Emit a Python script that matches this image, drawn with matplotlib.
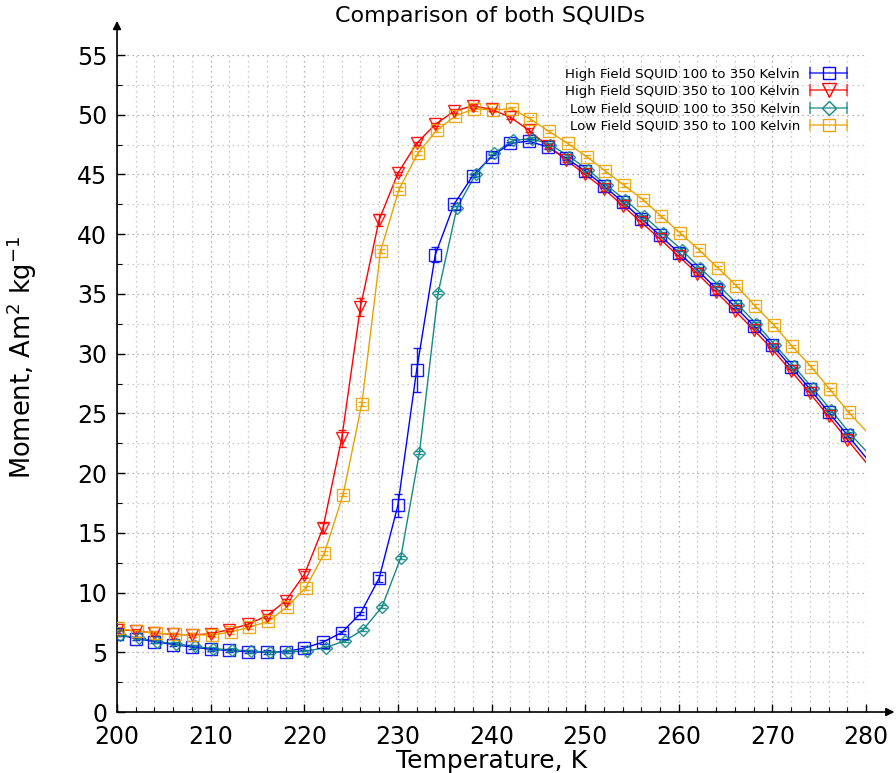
import matplotlib
matplotlib.use("Agg")
import matplotlib.pyplot as plt
import numpy as np
from matplotlib.lines import Line2D
from matplotlib.legend_handler import HandlerLine2D, HandlerTuple

# temperatures (K); last entry only continues the line to the plot edge
temps = np.arange(200, 282, 2)

hf_up = [6.5, 6.15, 5.9, 5.65, 5.45, 5.25, 5.15, 5.05, 5.0, 5.05,
         5.35, 5.85, 6.65, 8.25, 11.2, 17.3, 28.6, 38.3, 42.5, 44.9,
         46.5, 47.6, 47.8, 47.3, 46.35, 45.3, 44.05, 42.7, 41.3, 39.9,
         38.45, 37.0, 35.45, 33.95, 32.35, 30.7, 28.9, 27.05, 25.1, 23.2, 21.3]
hf_down = [6.9, 6.8, 6.6, 6.5, 6.45, 6.55, 6.9, 7.35, 8.05, 9.3,
           11.5, 15.4, 22.9, 33.9, 41.2, 45.1, 47.6, 49.2, 50.3, 50.75,
           50.45, 49.8, 48.7, 47.4, 46.2, 45.0, 43.8, 42.4, 41.0, 39.6,
           38.15, 36.7, 35.15, 33.6, 32.0, 30.35, 28.55, 26.7, 24.75, 22.8, 20.9]
lf_up = [6.45, 6.2, 5.9, 5.7, 5.5, 5.3, 5.2, 5.1, 5.0, 5.05,
         5.1, 5.4, 5.95, 6.9, 8.8, 12.9, 21.7, 35.1, 42.2, 45.0,
         46.8, 47.85, 48.0, 47.5, 46.5, 45.4, 44.1, 42.85, 41.5, 40.1,
         38.7, 37.15, 35.7, 34.1, 32.5, 30.7, 28.95, 27.1, 25.25, 23.3, 21.6]
lf_down = [7.0, 6.75, 6.6, 6.5, 6.45, 6.45, 6.7, 7.1, 7.6, 8.8,
           10.4, 13.3, 18.2, 25.8, 38.6, 43.8, 46.8, 48.7, 49.9, 50.5,
           50.4, 50.5, 49.65, 48.6, 47.6, 46.5, 45.3, 44.1, 42.9, 41.5,
           40.1, 38.7, 37.2, 35.7, 34.0, 32.4, 30.6, 28.9, 27.0, 25.1, 23.4]

# error bars for the 40 measured points
hf_up_err = [0.15] * 14 + [0.3, 0.95, 1.85, 0.6] + [0.15] * 22
hf_down_err = [0.15] * 10 + [0.3, 0.4, 0.7, 0.75, 0.5] + [0.15] * 25
lf_up_err = [0.12] * 40
lf_down_err = [0.15] * 40

# small temperature offsets of the low field runs
lf_up_shift = 0.3
lf_down_shift = 0.15

labels = ["High Field SQUID 100 to 350 Kelvin",
          "High Field SQUID 350 to 100 Kelvin",
          "Low Field SQUID 100 to 350 Kelvin",
          "Low Field SQUID 350 to 100 Kelvin"]

plt.rcParams['font.family'] = ['DejaVu Sans']

fig = plt.figure(figsize=(8.96, 7.73), dpi=100)
ax = fig.add_axes([0.1306, 0.0789, 0.8359, 0.8499])

series = [
    (temps, hf_up, hf_up_err, '#0000ff', 's', 8.0),
    (temps, hf_down, hf_down_err, '#ff0000', 'v', 8.5),
    (temps + lf_up_shift, lf_up, lf_up_err, '#138a84', 'D', 6.5),
    (temps + lf_down_shift, lf_down, lf_down_err, '#eaa200', 's', 8.0),
]

handles = []
hmap = {}
for x, y, err, col, mk, ms in series:
    x = np.asarray(x)
    y = np.asarray(y)
    ax.plot(x, y, color=col, lw=1.0, zorder=3)
    ax.errorbar(x[:-1], y[:-1], yerr=err, fmt=mk, ms=ms, mfc='none',
                mec=col, mew=1.0, ecolor=col, elinewidth=1.0,
                capsize=3, capthick=1.0, zorder=4, alpha=0.9)
    caps = Line2D([], [], color=col, lw=1.2, marker='|', ms=9, mew=1.2, alpha=0.75)
    mark = Line2D([], [], color=col, ls='none', marker=mk, ms=ms + 1, mfc='none', mew=1.0)
    hmap[caps] = HandlerLine2D(numpoints=2)
    handles.append((caps, mark))

hmap[tuple] = HandlerTuple(ndivide=1)
leg = ax.legend(handles, labels, handler_map=hmap,
                loc='upper right', bbox_to_anchor=(0.993, 0.995), frameon=False,
                markerfirst=False, fontsize=9.6, handlelength=3.4,
                labelspacing=0.32, handletextpad=0.45, borderpad=0.2)

ax.set_xlim(200, 280)
ax.set_ylim(0, 55)
ax.set_xticks(np.arange(200, 281, 10))
ax.set_xticks(np.arange(200, 281, 2), minor=True)
ax.set_yticks(np.arange(0, 56, 5))
ax.set_yticks(np.arange(0, 56, 2.5), minor=True)
ax.tick_params(which='both', direction='in', top=False, right=False, labelsize=17)
ax.tick_params(axis='x', which='major', pad=9.5)
ax.tick_params(axis='y', which='major', pad=7)
ax.tick_params(which='major', length=6, width=1.0)
ax.tick_params(which='minor', length=3.5, width=0.8)
ax.grid(which='major', color='#999999', ls=(0, (1, 3)), lw=0.9)
ax.grid(which='minor', color='#bbbbbb', ls=(0, (1, 3)), lw=0.9)
ax.set_axisbelow(True)

for s in ax.spines.values():
    s.set_visible(False)
ax.annotate('', xy=(1.038, 0), xytext=(0, 0), xycoords='axes fraction',
            arrowprops=dict(arrowstyle='-|>', color='black', lw=1.2,
                            mutation_scale=12, shrinkA=0, shrinkB=0),
            annotation_clip=False)
ax.annotate('', xy=(0, 1.052), xytext=(0, 0), xycoords='axes fraction',
            arrowprops=dict(arrowstyle='-|>', color='black', lw=1.2,
                            mutation_scale=12, shrinkA=0, shrinkB=0),
            annotation_clip=False)

ax.set_xlabel('Temperature, K', fontsize=18, labelpad=0)
ax.set_ylabel('Moment, Am$^2$ kg$^{-1}$', fontsize=18.5)
ax.yaxis.set_label_coords(-0.104, 0.54)
fig.text(0.547, 0.979, 'Comparison of both SQUIDs', ha='center', va='center', fontsize=16)

fig.savefig('out.png', dpi=100)
plt.close()
